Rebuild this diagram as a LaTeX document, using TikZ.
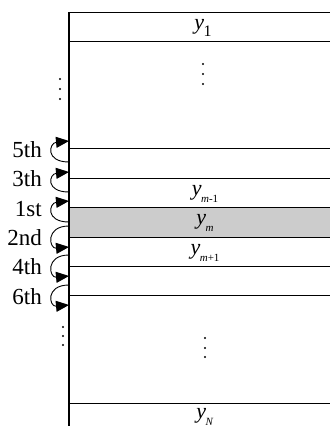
\documentclass[tikz,border=0pt]{standalone}
\usepackage{fontspec}
\setmainfont{Liberation Serif}
\usetikzlibrary{arrows.meta}
\newcommand\yvar[1]{\textit{y}\kern-0.5pt\raisebox{-0.35em}{\fontsize{11}{11}\selectfont #1}}
\begin{document}
\begin{tikzpicture}[x=1pt,y=-1pt,
  rule/.style={draw=black, line width=1pt},
  ord/.style={anchor=east, inner sep=0pt, font=\fontsize{23}{23}\selectfont},
  var/.style={inner sep=0pt, font=\fontsize{22}{22}\selectfont},
  dotmark/.style={fill=black, draw=none},
  loopar/.style={line width=0.9pt, -{Triangle[length=13pt,width=11pt]}},
  ]
\useasboundingbox (0,0) rectangle (330,426);
% shaded band
\fill[black!20] (69,207) rectangle (330,237);
% horizontal rules
\foreach \yy in {12,41,148,178,207,237,266,295,403}
  \draw[rule] (69,\yy) -- (330,\yy);
% vertical rule
\draw[line width=1.2pt] (69,12) -- (69,426);
% variable labels
\node[var] (y1) at (203,28) {\textit{y}\kern-0.5pt\raisebox{-0.3em}{\fontsize{16}{16}\selectfont 1}};
\node[var] (ym1) at (205,194) {\yvar{\textit{m}-1}};
\node[var] (ym) at (205,223) {\yvar{\textit{m}}};
\node[var] (yp1) at (205,253) {\yvar{\textit{m}+1}};
\node[var] (yN) at (205,417) {\yvar{\textit{N}}};
% dots
\foreach \p in {(203,64),(203,74),(203,84),(60,79),(60,89),(60,99),(205,338),(205,348),(205,357),(63,327),(63,336),(63,345)}
  \fill[dotmark] \p circle (1.1);
% order labels
\node[ord] (o5) at (42,150) {5th};
\node[ord] (o3) at (42,179) {3th};
\node[ord] (o1) at (42,209) {1st};
\node[ord] (o2) at (42,238) {2nd};
\node[ord] (o4) at (42,267) {4th};
\node[ord] (o6) at (42,297) {6th};
% loop endpoints
\coordinate (s5) at (69,162); \coordinate (e5) at (69,141);
\coordinate (s3) at (69,192); \coordinate (e3) at (69,172);
\coordinate (s1) at (69,222); \coordinate (e1) at (69,201);
\coordinate (s2) at (69,226); \coordinate (e2) at (69,247);
\coordinate (s4) at (69,255); \coordinate (e4) at (69,276);
\coordinate (s6) at (69,285); \coordinate (e6) at (69,305);
\foreach \k in {5,3,1,2,4,6}
  \draw[loopar] (s\k) .. controls +(-24,0) and +(-20,2) .. (e\k);
\end{tikzpicture}
\end{document}
